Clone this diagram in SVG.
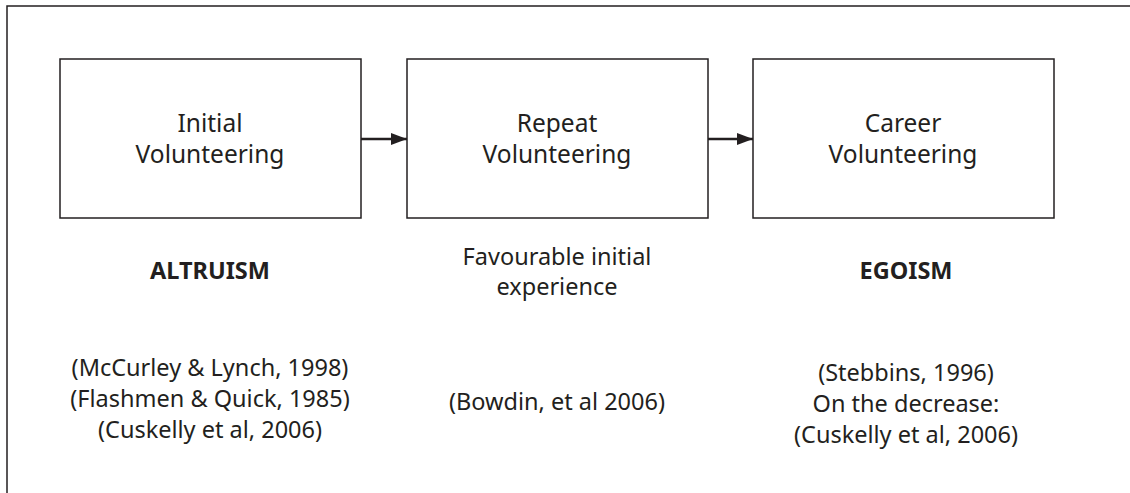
<svg xmlns="http://www.w3.org/2000/svg" width="1130" height="493" viewBox="0 0 1130 493">
<style>
.box{fill:#fff;stroke:#231f20;stroke-width:1.5}
.t{font-family:"Noto Sans","Open Sans",sans-serif;font-size:23.5px;fill:#231f20;text-anchor:middle}
.n{font-size:24.5px}
.b{font-weight:bold}
.c{stroke:#231f20;stroke-width:2.5;fill:none}
</style>
<defs>
<marker id="ah" markerWidth="16" markerHeight="12" refX="16" refY="6" orient="auto" markerUnits="userSpaceOnUse">
<path d="M0,0 L16,6 L0,12 Z" fill="#231f20"/>
</marker>
</defs>
<rect width="1130" height="493" fill="#fff"/>
<path d="M7,493 V6 H1130" fill="none" stroke="#231f20" stroke-width="1.5"/>
<g id="connectors">
<line class="c" x1="361" y1="139" x2="407" y2="139" marker-end="url(#ah)"/>
<line class="c" x1="708" y1="139" x2="753" y2="139" marker-end="url(#ah)"/>
</g>
<g id="initial">
<rect class="box" x="60" y="59" width="301" height="159"/>
<text class="t n" x="210" y="132">Initial</text>
<text class="t n" x="210" y="163">Volunteering</text>
</g>
<g id="repeat">
<rect class="box" x="407" y="59" width="301" height="159"/>
<text class="t n" x="557" y="132">Repeat</text>
<text class="t n" x="557" y="163">Volunteering</text>
</g>
<g id="career">
<rect class="box" x="753" y="59" width="301" height="159"/>
<text class="t n" x="903" y="132">Career</text>
<text class="t n" x="903" y="163">Volunteering</text>
</g>
<g id="altruism">
<text class="t b" x="210" y="279">ALTRUISM</text>
<text class="t" x="210" y="376">(McCurley &amp; Lynch, 1998)</text>
<text class="t" x="210" y="407">(Flashmen &amp; Quick, 1985)</text>
<text class="t" x="210" y="438">(Cuskelly et al, 2006)</text>
</g>
<g id="favourable">
<text class="t" x="557" y="265">Favourable initial</text>
<text class="t" x="557" y="295">experience</text>
<text class="t" x="557" y="410">(Bowdin, et al 2006)</text>
</g>
<g id="egoism">
<text class="t b" x="906" y="279">EGOISM</text>
<text class="t" x="906" y="381">(Stebbins, 1996)</text>
<text class="t" x="906" y="412">On the decrease:</text>
<text class="t" x="906" y="443">(Cuskelly et al, 2006)</text>
</g>
</svg>
